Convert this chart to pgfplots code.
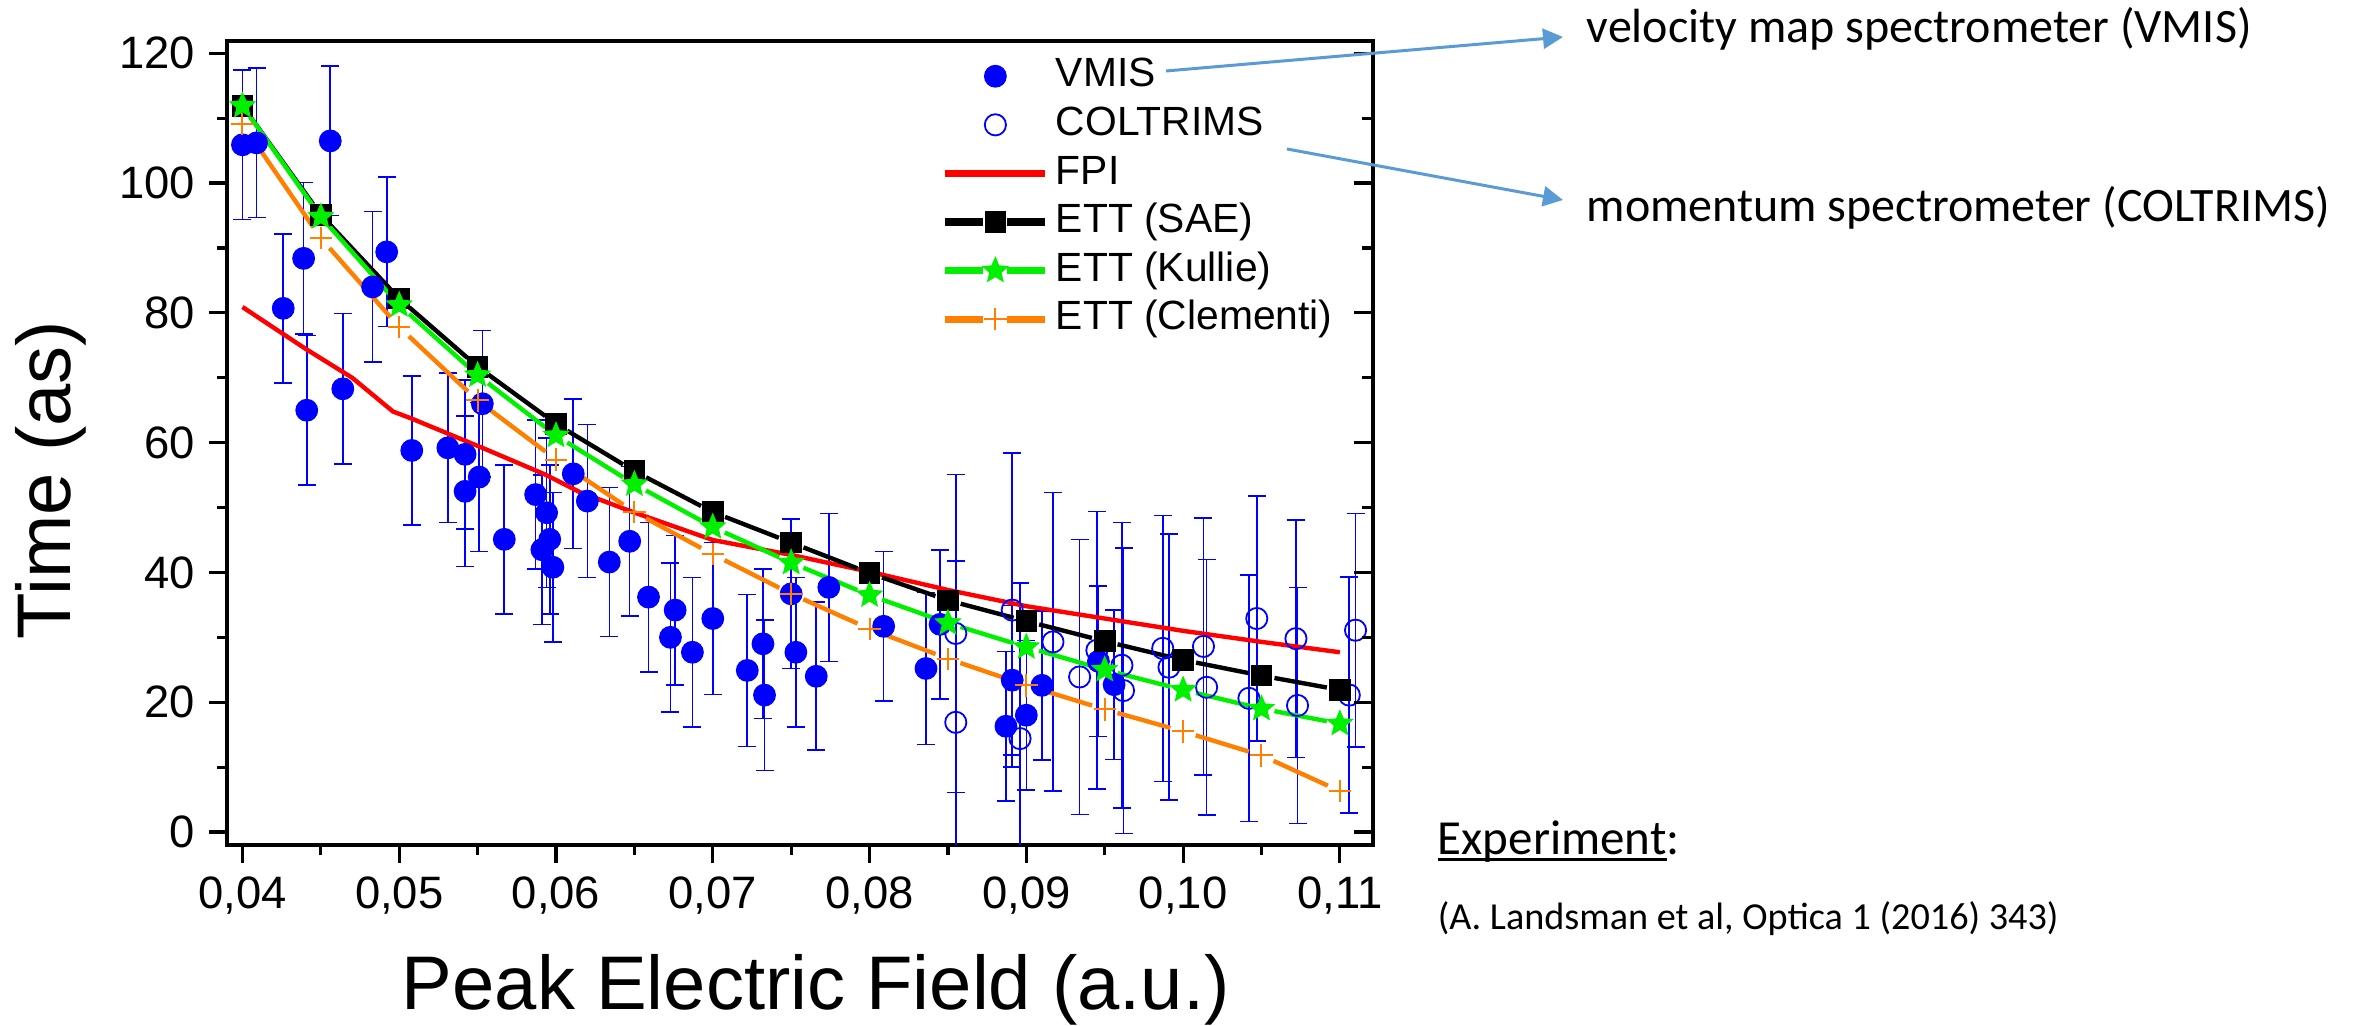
\documentclass[border=0pt]{standalone}
\usepackage{fontspec}
\setmainfont{Liberation Sans}
\newfontfamily\calibri{Carlito}
\usepackage{pgfplots}
\pgfplotsset{compat=1.18}
\usetikzlibrary{arrows.meta}
\definecolor{vblue}{RGB}{0,0,255}
\definecolor{fred}{RGB}{255,0,0}
\definecolor{kgreen}{RGB}{0,240,0}
\definecolor{corange}{RGB}{255,128,0}
\definecolor{arrowblue}{RGB}{91,155,213}
\pgfdeclareplotmark{fstar}{%
  \pgfpathmoveto{\pgfpointpolar{90}{\pgfplotmarksize}}%
  \pgfpathlineto{\pgfpointpolar{126}{0.45\pgfplotmarksize}}%
  \pgfpathlineto{\pgfpointpolar{162}{\pgfplotmarksize}}%
  \pgfpathlineto{\pgfpointpolar{198}{0.45\pgfplotmarksize}}%
  \pgfpathlineto{\pgfpointpolar{234}{\pgfplotmarksize}}%
  \pgfpathlineto{\pgfpointpolar{270}{0.45\pgfplotmarksize}}%
  \pgfpathlineto{\pgfpointpolar{306}{\pgfplotmarksize}}%
  \pgfpathlineto{\pgfpointpolar{342}{0.45\pgfplotmarksize}}%
  \pgfpathlineto{\pgfpointpolar{18}{\pgfplotmarksize}}%
  \pgfpathlineto{\pgfpointpolar{54}{0.45\pgfplotmarksize}}%
  \pgfpathclose
  \pgfusepathqfillstroke}
\pgfplotsset{
  markleg/.style={legend image code/.code={\path[draw=none,fill=none] (0pt,-0.1pt) rectangle (25pt,0.1pt); \draw[##1,/tikz/only marks] plot coordinates {(12.5pt,0pt)};}},
  lineleg/.style={legend image code/.code={\draw[#1, line width=1.8pt] (0pt,0pt) -- (25pt,0pt);}},
  gapleg/.style={legend image code/.code={\draw[#1, line width=1.8pt] (0pt,0pt) -- (9.5pt,0pt) (15.5pt,0pt) -- (25pt,0pt); \draw[##1,/tikz/only marks] plot coordinates {(12.5pt,0pt)};}},
}
\newcommand\seg[5]{\addplot[#1, forget plot, line width=1.1pt, shorten <=3.3pt, shorten >=3.3pt] coordinates {(#2,#3) (#4,#5)};}

\pgfplotstableread{
x y e
0.0400 105.9 11.5
0.0409 106.2 11.5
0.0426 80.7 11.5
0.0439 88.4 11.7
0.0441 65.0 11.5
0.0456 106.5 11.5
0.0464 68.3 11.6
0.0483 84.0 11.6
0.0492 89.4 11.5
0.0508 58.8 11.5
0.0531 59.2 11.5
0.0542 58.2 11.5
0.0542 52.5 11.6
0.0551 54.7 11.5
0.0553 66.0 11.3
0.0567 45.1 11.5
0.0587 52.0 11.5
0.0591 43.5 11.5
0.0594 49.2 11.5
0.0596 45.1 11.5
0.0598 40.8 11.5
0.0611 55.2 11.5
0.0620 51.0 11.8
0.0634 41.6 11.5
0.0647 44.8 11.5
0.0659 36.2 11.5
0.0673 30.0 11.5
0.0676 34.2 11.5
0.0687 27.7 11.5
0.0700 32.9 11.7
0.0722 24.9 11.7
0.0732 29.0 11.5
0.0733 21.1 11.6
0.0750 36.7 11.5
0.0753 27.7 11.5
0.0766 24.0 11.4
0.0774 37.7 11.4
0.0809 31.7 11.5
0.0836 25.2 11.7
0.0845 32.0 11.5
0.0887 16.3 11.5
0.0891 23.4 11.5
0.0900 18.0 11.5
0.0910 22.6 11.5
0.0946 26.3 11.6
0.0956 22.7 11.5
}\vmis

\pgfplotstableread{
x y e
0.0855 30.6 24.5
0.0855 16.9 24.9
0.0891 34.2 24.2
0.0896 14.4 24.0
0.0917 29.3 23.0
0.0934 23.9 21.2
0.0945 28.0 21.4
0.0961 25.7 22.0
0.0962 21.8 22.0
0.0987 28.3 20.5
0.0991 25.4 20.5
0.1013 28.6 19.8
0.1015 22.3 19.7
0.1042 20.6 19.0
0.1047 32.9 18.9
0.1072 29.8 18.3
0.1073 19.5 18.2
0.1106 21.1 18.2
0.1110 31.1 18.0
}\coltrims

\begin{document}
\begin{tikzpicture}
\useasboundingbox (0pt,0pt) rectangle (589pt,256.5pt);
\begin{axis}[
  at={(56.7pt,45.25pt)}, anchor=south west,
  scale only axis, width=286.5pt, height=201pt,
  xmin=0.039, xmax=0.1121, ymin=-2, ymax=121.9,
  xtick={0.04,0.05,0.06,0.07,0.08,0.09,0.10,0.11},
  xticklabels={{0,04},{0,05},{0,06},{0,07},{0,08},{0,09},{0,10},{0,11}},
  ytick={0,20,40,60,80,100,120},
  yticklabels={0,20,40,60,80,100,120},
  minor x tick num=1, minor y tick num=1,
  tick align=outside, xtick pos=left, ytick pos=left,
  major tick length=4.4pt, minor tick length=2.4pt,
  every tick/.style={black, line width=0.8pt},
  axis line style={line width=0.9pt},
  tick label style={font=\fontsize{11.35}{13}\selectfont},
  xlabel={Peak Electric Field (a.u.)},
  ylabel={Time (as)},
  label style={font=\fontsize{19}{22}\selectfont},
  xlabel style={at={(axis description cs:0.514,-0.204)}, anchor=base},
  ylabel style={at={(axis description cs:-0.1368,0.454)}, anchor=base},
  legend style={draw=none, fill=none, at={(0.6232,0.9813)}, anchor=north west,
    inner sep=0pt, font=\fontsize{10.2}{12}\selectfont, row sep=2.45pt,
    nodes={inner xsep=1.75pt, inner ysep=0pt, text height=7.5pt, text depth=2.2pt}},
  legend cell align=left,
]
% VMIS
\addplot[vblue, only marks, mark=*, mark size=2.65pt, markleg,
  error bars/.cd, y dir=both, y explicit,
  error bar style={line width=0.4pt, vblue},
  error mark options={rotate=90, mark size=2.25pt, line width=0.4pt, vblue}]
  table[x=x, y=y, y error=e] {\vmis};
\addlegendentry{VMIS}
% COLTRIMS
\addplot[vblue, only marks, mark=o, mark size=2.65pt, mark options={line width=0.45pt}, markleg,
  error bars/.cd, y dir=both, y explicit,
  error bar style={line width=0.4pt, vblue},
  error mark options={rotate=90, mark size=2.25pt, line width=0.4pt, vblue}]
  table[x=x, y=y, y error=e] {\coltrims};
\addlegendentry{COLTRIMS}
% FPI
\addplot[fred, line width=1.1pt, mark=none, lineleg=fred]
  coordinates {(0.0400,80.9) (0.0440,74.5) (0.0470,70.0) (0.0496,64.8) (0.0508,63.7)
  (0.0555,59.0) (0.0593,55.1) (0.0615,52.4) (0.0648,49.4) (0.0700,45.0) (0.0750,42.7)
  (0.0800,40.1) (0.0850,37.3) (0.0900,34.8) (0.0950,32.9) (0.1000,31.0) (0.1050,29.3) (0.1100,27.7)};
\addlegendentry{FPI}
% ETT (SAE)
\seg{black}{0.040}{111.9}{0.045}{95.1}
\seg{black}{0.045}{95.1}{0.050}{82.2}
\seg{black}{0.050}{82.2}{0.055}{71.7}
\seg{black}{0.055}{71.7}{0.060}{62.9}
\seg{black}{0.060}{62.9}{0.065}{55.6}
\seg{black}{0.065}{55.6}{0.070}{49.3}
\seg{black}{0.070}{49.3}{0.075}{44.6}
\seg{black}{0.075}{44.6}{0.080}{39.9}
\seg{black}{0.080}{39.9}{0.085}{35.7}
\seg{black}{0.085}{35.7}{0.090}{32.5}
\seg{black}{0.090}{32.5}{0.095}{29.4}
\seg{black}{0.095}{29.4}{0.100}{26.5}
\seg{black}{0.100}{26.5}{0.105}{24.1}
\seg{black}{0.105}{24.1}{0.110}{21.9}
\addplot[black, only marks, mark=square*, mark size=2.5pt, gapleg=black]
  coordinates {(0.040,111.9) (0.045,95.1) (0.050,82.2) (0.055,71.7) (0.060,62.9) (0.065,55.6)
  (0.070,49.3) (0.075,44.6) (0.080,39.9) (0.085,35.7) (0.090,32.5) (0.095,29.4) (0.100,26.5)
  (0.105,24.1) (0.110,21.9)};
\addlegendentry{ETT (SAE)}
% ETT (Kullie)
\seg{kgreen}{0.040}{111.9}{0.045}{94.8}
\seg{kgreen}{0.045}{94.8}{0.050}{81.2}
\seg{kgreen}{0.050}{81.2}{0.055}{70.4}
\seg{kgreen}{0.055}{70.4}{0.060}{61.1}
\seg{kgreen}{0.060}{61.1}{0.065}{53.6}
\seg{kgreen}{0.065}{53.6}{0.070}{47.0}
\seg{kgreen}{0.070}{47.0}{0.075}{41.5}
\seg{kgreen}{0.075}{41.5}{0.080}{36.5}
\seg{kgreen}{0.080}{36.5}{0.085}{32.2}
\seg{kgreen}{0.085}{32.2}{0.090}{28.5}
\seg{kgreen}{0.090}{28.5}{0.095}{25.0}
\seg{kgreen}{0.095}{25.0}{0.100}{21.9}
\seg{kgreen}{0.100}{21.9}{0.105}{19.0}
\seg{kgreen}{0.105}{19.0}{0.110}{16.7}
\addplot[kgreen, only marks, mark=fstar, mark size=3.1pt, gapleg=kgreen]
  coordinates {(0.040,111.9) (0.045,94.8) (0.050,81.2) (0.055,70.4) (0.060,61.1) (0.065,53.6)
  (0.070,47.0) (0.075,41.5) (0.080,36.5) (0.085,32.2) (0.090,28.5) (0.095,25.0) (0.100,21.9)
  (0.105,19.0) (0.110,16.7)};
\addlegendentry{ETT (Kullie)}
% ETT (Clementi)
\seg{corange}{0.040}{109.1}{0.045}{91.5}
\seg{corange}{0.045}{91.5}{0.050}{77.8}
\seg{corange}{0.050}{77.8}{0.055}{66.5}
\seg{corange}{0.055}{66.5}{0.060}{57.4}
\seg{corange}{0.060}{57.4}{0.065}{49.3}
\seg{corange}{0.065}{49.3}{0.070}{42.8}
\seg{corange}{0.070}{42.8}{0.075}{36.7}
\seg{corange}{0.075}{36.7}{0.080}{31.3}
\seg{corange}{0.080}{31.3}{0.085}{26.7}
\seg{corange}{0.085}{26.7}{0.090}{22.6}
\seg{corange}{0.090}{22.6}{0.095}{18.9}
\seg{corange}{0.095}{18.9}{0.100}{15.5}
\seg{corange}{0.100}{15.5}{0.105}{11.8}
\seg{corange}{0.105}{11.8}{0.110}{6.3}
\addplot[corange, only marks, mark=+, mark size=2.8pt, mark options={line width=0.5pt}, gapleg=corange]
  coordinates {(0.040,109.1) (0.045,91.5) (0.050,77.8) (0.055,66.5) (0.060,57.4) (0.065,49.3)
  (0.070,42.8) (0.075,36.7) (0.080,31.3) (0.085,26.7) (0.090,22.6) (0.095,18.9) (0.100,15.5)
  (0.105,11.8) (0.110,6.3)};
\addlegendentry{ETT (Clementi)}
\end{axis}
% right-side inward ticks
\begin{axis}[
  at={(56.7pt,45.25pt)}, anchor=south west,
  scale only axis, width=286.5pt, height=201pt,
  xmin=0.039, xmax=0.1121, ymin=-2, ymax=121.9,
  axis line style={draw=none}, xtick=\empty,
  ytick={0,20,40,60,80,100,120}, yticklabels={}, minor y tick num=1,
  ytick pos=right, tick align=inside,
  major tick length=4.75pt, minor tick length=2.75pt,
  every tick/.style={black, line width=0.8pt},
]
\end{axis}
% annotations
\node[font=\calibri\fontsize{12}{14}\selectfont, anchor=base west, inner sep=0pt] at (396.5pt,245.75pt) {velocity map spectrometer (VMIS)};
\node[font=\calibri\fontsize{12}{14}\selectfont, anchor=base west, inner sep=0pt] at (396.5pt,201pt) {momentum spectrometer (COLTRIMS)};
\draw[arrowblue, line width=0.75pt, -{Triangle[length=5pt,width=5pt]}] (291.5pt,238.75pt) -- (390.75pt,247.25pt);
\draw[arrowblue, line width=0.75pt, -{Triangle[length=5pt,width=5pt]}] (321.75pt,219.25pt) -- (390.75pt,206.5pt);
\node[font=\calibri\fontsize{12.25}{14}\selectfont, anchor=base west, inner sep=0pt] at (359.25pt,42.75pt) {\setbox0\hbox{Experiment}\rlap{\rule[-1.4pt]{\wd0}{0.65pt}}Experiment:};
\node[font=\calibri\fontsize{9.55}{11}\selectfont, anchor=base west, inner sep=0pt] at (359.25pt,24pt) {(A. Landsman et al, Optica 1 (2016) 343)};
\end{tikzpicture}
\end{document}
